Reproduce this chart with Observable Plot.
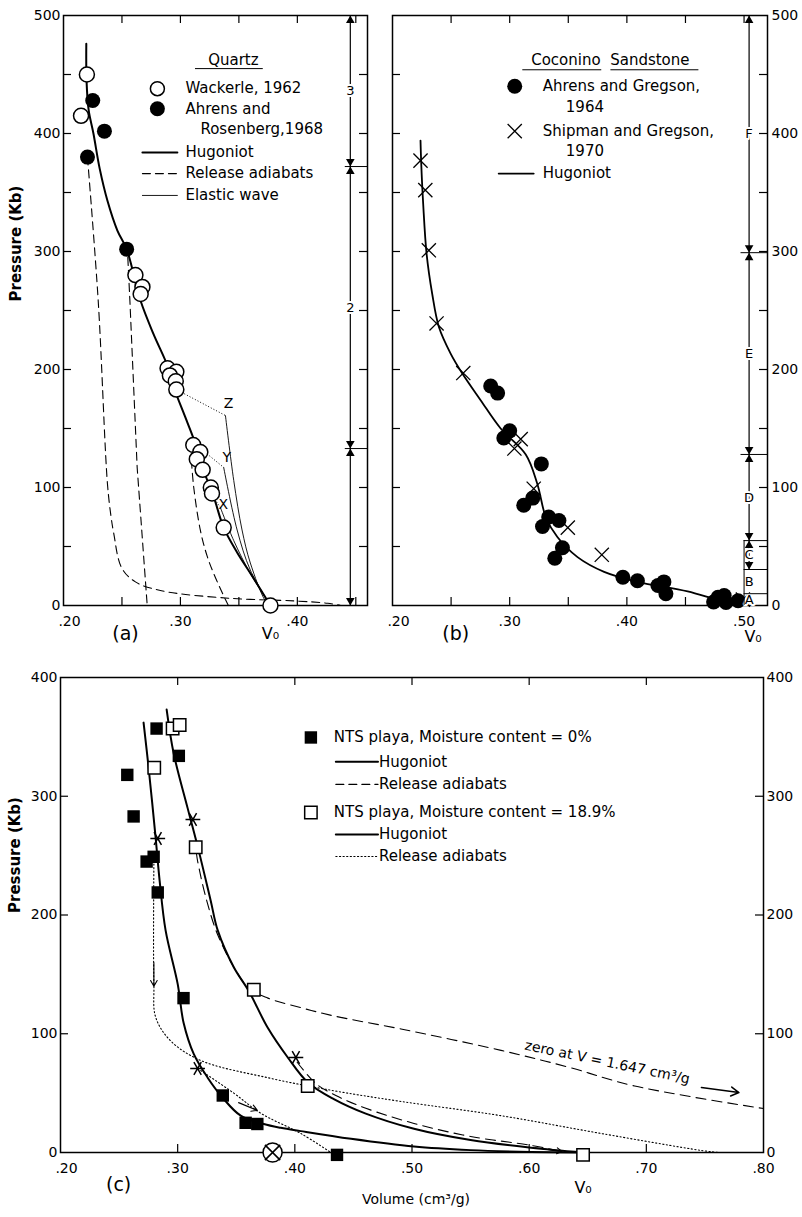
<!DOCTYPE html>
<html><head><meta charset="utf-8">
<script src="https://cdn.jsdelivr.net/npm/d3@7"></script>
<script src="https://cdn.jsdelivr.net/npm/@observablehq/plot@0.6"></script>
<style>
body{margin:0;background:#fff;}
#root{position:relative;width:802px;height:1217px;}
#root svg{position:absolute;left:0;}
</style></head><body><div id="root"></div>
<script>
// ---------------- DATA ----------------
// Panel (a) Quartz
const quartzXLabels=[0.2,0.3,0.4];
const quartzXTicks=[0.25,0.3,0.35,0.4,0.45];
const quartzYLabels=[0,100,200,300,400,500];
const quartzYTicks=[50,100,150,200,250,300,350,400,450];
const quartzWackerle=[[0.220,450],[0.215,415],[0.2615,280],[0.2675,270],[0.266,264],[0.289,201],[0.2965,198],[0.291,195],[0.296,190],[0.2965,183],[0.311,136],[0.317,130],[0.314,124],[0.319,115],[0.326,100],[0.327,95],[0.337,66],[0.377,0]];
const quartzAhrens=[[0.225,428],[0.235,402],[0.2205,380],[0.254,302]];
const quartzHugoniot=[[0.2195,476],[0.2197,445],[0.2215,420],[0.2256,400],[0.231,370],[0.2376,343],[0.246,318],[0.254,302],[0.266,258],[0.277,230],[0.289,203],[0.2943,185],[0.304,160],[0.3114,141],[0.320,114],[0.3285,92],[0.337,66],[0.3485,45],[0.362,24],[0.377,0]];
const quartzRelease1=[[0.2205,380],[0.2297,258],[0.2376,103],[0.2407,75],[0.243,61],[0.2497,32],[0.2615,20],[0.2838,12.5],[0.341,6.2],[0.397,3.9],[0.426,1.9],[0.437,0]];
const quartzRelease2=[[0.255,295],[0.2568,258],[0.263,117],[0.2716,0]];
const quartzRelease3=[[0.3094,123],[0.3114,100],[0.3170,64],[0.3228,42],[0.3285,27],[0.3385,5],[0.341,0]];
const elasticZ=[[0.3385,161],[0.3456,106],[0.3527,64],[0.3598,36],[0.3726,4],[0.377,0]];
const elasticY=[[0.3370,117],[0.3485,64],[0.3598,30],[0.377,0]];
const elasticX=[[0.3342,83],[0.3456,55],[0.3598,27],[0.377,0]];
const elasticJoins=[{v1:0.2965,p1:183,v2:0.3385,p2:161,name:"Z",lp:171},{v1:0.3228,p1:128.5,v2:0.3370,p2:117,name:"Y",lp:125.6},{v1:0.328,p1:92,v2:0.3342,p2:83,name:"X",lp:86}];
const quartzZones=[{top:500,bottom:372,label:"3"},{top:372,bottom:133,label:"2"},{top:133,bottom:0,label:""}];
const quartzLegend=["Quartz","Wackerle, 1962","Ahrens and","Rosenberg,1968","Hugoniot","Release adiabats","Elastic wave"];

// Panel (b) Coconino Sandstone
const sandXLabels=[0.2,0.3,0.4,0.5];
const sandXTicks=[0.25,0.3,0.35,0.4,0.45,0.5];
const sandYLabels=[0,100,200,300,400,500];
const sandYTicks=[50,100,150,200,250,300,350,400,450];
const sandAhrens=[[0.2838,186],[0.2897,180],[0.300,148],[0.295,142],[0.327,120],[0.3197,91],[0.312,85],[0.3333,75],[0.342,72],[0.328,67],[0.345,49],[0.3385,40],[0.3966,24],[0.409,21],[0.4316,20],[0.4265,17],[0.4333,10],[0.4778,7],[0.483,8.5],[0.4846,2.5],[0.4949,4],[0.474,3]];
const sandShipman=[[0.2239,377],[0.228,352],[0.231,301],[0.2376,239],[0.2604,197],[0.3094,141],[0.304,133],[0.3205,99],[0.3496,66],[0.3786,43],[0.499,5]];
const sandHugoniot=[[0.2239,394],[0.2245,375],[0.2262,340],[0.2291,298],[0.2339,264],[0.2396,236],[0.2496,213.5],[0.2596,196.6],[0.2752,174],[0.2923,150],[0.3137,128],[0.3236,103],[0.3308,75],[0.3407,58],[0.3579,41],[0.3806,28.5],[0.4091,20],[0.4519,12],[0.4803,4],[0.4974,2]];
const sandZones=[{top:500,bottom:299,label:"F",arrow:true},{top:299,bottom:128,label:"E",arrow:true},{top:128,bottom:55,label:"D",arrow:true},{top:55,bottom:30.5,label:"C",arrow:true},{top:30.5,bottom:10,label:"B",arrow:false},{top:10,bottom:0,label:"A",arrow:false}];
const sandLegend=["Coconino","Sandstone","Ahrens and Gregson,","1964","Shipman and Gregson,","1970","Hugoniot"];

// Panel (c) NTS playa
const playaXLabels=[0.2,0.3,0.4,0.5,0.6,0.7,0.8];
const playaXTicks=[0.3,0.4,0.5,0.6,0.7];
const playaYLabels=[0,100,200,300,400];
const playaYTicks=[100,200,300];
const playaDry=[[0.282,357],[0.301,334],[0.257,318],[0.2624,283],[0.2735,245],[0.2795,249],[0.283,219],[0.305,130],[0.3385,48],[0.358,25],[0.368,24],[0.436,-2]];
const playaWet=[[0.2957,357],[0.3017,360],[0.280,324],[0.3154,257],[0.365,137],[0.411,56],[0.646,-2]];
const playaStars=[[0.283,264.5],[0.313,280.5],[0.4009,80],[0.317,70.7]];
const playaCircled=[[0.381,0]];
const hugDry=[[0.2709,362],[0.2752,324],[0.2812,265],[0.2846,229],[0.2897,187],[0.300,142],[0.3051,109],[0.3137,83],[0.3256,63],[0.3385,46],[0.3538,31],[0.3735,24],[0.388,20.8],[0.4051,18],[0.448,11.5],[0.5017,5],[0.55,2],[0.6017,0.5],[0.646,0]];
const hugWet=[[0.2906,373],[0.2966,336],[0.3085,290],[0.318,254],[0.3282,212],[0.3342,187],[0.3479,156],[0.3607,136],[0.3769,105],[0.394,80],[0.4111,59],[0.4333,45],[0.46,33],[0.5017,20],[0.55,10.5],[0.6017,4],[0.646,0]];
const releaseDashed1=[[0.316,252],[0.3171,245],[0.324,215],[0.3339,184],[0.348,156],[0.361,138],[0.377,130],[0.405,122],[0.4333,115],[0.4906,104],[0.576,86],[0.633,72],[0.69,56],[0.80,37]];
const releaseDashed2=[[0.402,76],[0.418,58],[0.435,48],[0.46,37.5],[0.5017,24.5],[0.55,13.5],[0.6017,6],[0.625,1.5]];
const releaseDotted1=[[0.2797,243],[0.2797,142],[0.2812,114],[0.294,94],[0.3197,77.5],[0.3769,63],[0.4333,52],[0.4906,43],[0.576,31],[0.6615,16],[0.747,1.7],[0.7615,0]];
const releaseDotted2=[[0.3197,69],[0.3479,50],[0.371,33],[0.4051,16],[0.4308,0]];
const playaLegend=["NTS playa, Moisture content = 0%","Hugoniot","Release adiabats","NTS playa, Moisture content = 18.9%","Hugoniot","Release adiabats"];
const zeroNote="zero at V = 1.647 cm\u00b3/g";

// ---------------- HELPERS ----------------
const root=document.getElementById("root");
const baseStyle={fontFamily:"DejaVu Sans, sans-serif",fontSize:"14px",background:"transparent",overflow:"visible",color:"#000"};
const fmt=d=>d3.format(".2f")(d).replace(/^0/,"");
const P=a=>a.map(([v,p])=>({v,p}));
const ln=(arr,o={})=>Plot.line(P(arr),{x:"v",y:"p",curve:"catmull-rom",stroke:"black",strokeWidth:1.1,...o});
const DASH="8,5", DOT="1.2,2.4";
function innerTicks(xt,yt,xd,yd,kx,ky,L=8){
  return [
    Plot.ruleX(xt,{x:d=>d,y1:()=>yd[0],y2:()=>yd[0]+L*ky,strokeWidth:1.2}),
    Plot.ruleX(xt,{x:d=>d,y1:()=>yd[1],y2:()=>yd[1]-L*ky,strokeWidth:1.2}),
    Plot.ruleY(yt,{y:d=>d,x1:()=>xd[0],x2:()=>xd[0]+L*kx,strokeWidth:1.2}),
    Plot.ruleY(yt,{y:d=>d,x1:()=>xd[1],x2:()=>xd[1]-L*kx,strokeWidth:1.2})
  ];
}
// x tick labels drawn as text marks (first label nudged right, as in the original)
function xLabels(labels){
  const o={x:d=>d,y:()=>0,text:fmt,dy:16,fontSize:14,fill:"black"};
  return [Plot.text(labels.slice(0,1),{...o,dx:6}),Plot.text(labels.slice(1),o)];
}
function zoneMarks(zones,xz){
  const arr=zones.filter(d=>d.arrow!==false);
  return [
    Plot.ruleX(arr,{x:()=>xz,y1:"top",y2:"bottom",strokeWidth:1.2}),
    Plot.dot(arr,{x:()=>xz,y:"top",symbol:"triangle",r:3.2,fill:"black",dy:5}),
    Plot.dot(arr,{x:()=>xz,y:"bottom",symbol:"triangle",rotate:180,r:3.2,fill:"black",dy:-5}),
    Plot.text(zones.filter(d=>d.label),{x:()=>xz,y:d=>(d.top+d.bottom)/2,text:"label",fontSize:13,fill:"black",stroke:"white",strokeWidth:4,paintOrder:"stroke"})
  ];
}
const T=(t,v,p,o={})=>Plot.text([{t,v,p}],{x:"v",y:"p",text:"t",fontSize:15,textAnchor:"start",fill:"black",...o});
const seg=(v1,v2,p,o={})=>Plot.line([{v:v1,p},{v:v2,p}],{x:"v",y:"p",stroke:"black",...o});

// ---------------- PANEL (a) ----------------
const kxA=0.26/304, kyA=500/590;
const plotA=Plot.plot({
  width:802,height:640,marginLeft:63,marginRight:435,marginTop:15,marginBottom:35,
  style:baseStyle,
  x:{domain:[0.2,0.46],axis:null},
  y:{domain:[0,500],ticks:quartzYLabels,tickSize:0,tickPadding:3,label:null},
  marks:[
    ...innerTicks(quartzXTicks,quartzYTicks,[0.2,0.46],[0,500],kxA,kyA),
    Plot.frame({stroke:"black",strokeWidth:1.5}),
    ...xLabels(quartzXLabels),
    ln(quartzRelease1,{strokeDasharray:DASH}),
    ln(quartzRelease2,{strokeDasharray:DASH,curve:"linear"}),
    ln(quartzRelease3,{strokeDasharray:DASH}),
    ln(elasticZ,{strokeWidth:0.9}),
    ln(elasticY,{strokeWidth:0.9}),
    ln(elasticX,{strokeWidth:0.9}),
    Plot.link(elasticJoins,{x1:"v1",y1:"p1",x2:"v2",y2:"p2",stroke:"black",strokeWidth:1,strokeDasharray:"1,2"}),
    ln(quartzHugoniot,{strokeWidth:2}),
    Plot.dot(P(quartzAhrens),{x:"v",y:"p",r:7.5,fill:"black"}),
    Plot.dot(P(quartzWackerle),{x:"v",y:"p",r:7.5,fill:"white",stroke:"black",strokeWidth:1.5}),
    Plot.text(elasticJoins,{x:"v2",y:"lp",text:"name",fontSize:14,fill:"black",dx:3}),
    ...zoneMarks(quartzZones,0.4453),
    Plot.ruleY([372,133],{y:d=>d,x1:()=>0.441,x2:()=>0.46,strokeWidth:1}),
    // legend
    T(quartzLegend[0],0.3453,462,{textAnchor:"middle"}),
    seg(0.3128,0.3701,455,{strokeWidth:1}),
    Plot.dot([{v:0.2803,p:438}],{x:"v",y:"p",r:7,fill:"white",stroke:"black",strokeWidth:1.5}),
    Plot.dot([{v:0.2803,p:421}],{x:"v",y:"p",r:7.5,fill:"black"}),
    T(quartzLegend[1],0.3043,438),
    T(quartzLegend[2],0.3043,421),
    T(quartzLegend[3],0.3171,404),
    seg(0.2675,0.2974,384,{strokeWidth:2}),
    T(quartzLegend[4],0.3043,384),
    seg(0.2675,0.2974,366,{strokeWidth:1.1,strokeDasharray:DASH}),
    T(quartzLegend[5],0.3043,366),
    seg(0.2675,0.2974,347.5,{strokeWidth:0.9}),
    T(quartzLegend[6],0.3043,347.5),
    T("(a)",0.253,-24,{textAnchor:"middle",fontSize:19}),
    T("V\u2080",0.377,-24,{textAnchor:"middle",fontSize:16}),
    Plot.text(["Pressure (Kb)"],{text:d=>d,frameAnchor:"left",rotate:-90,dx:-47,dy:-9,fontSize:15,fontWeight:"bold",fill:"black"})
  ]
});
plotA.style.top="0px";
root.appendChild(plotA);

// ---------------- PANEL (b) ----------------
const kxB=0.32/375, kyB=500/590;
const plotB=Plot.plot({
  width:802,height:640,marginLeft:392,marginRight:35,marginTop:15,marginBottom:35,
  style:baseStyle,
  x:{domain:[0.2,0.52],axis:null},
  y:{domain:[0,500],axis:"right",ticks:sandYLabels,tickSize:0,tickPadding:4,label:null},
  marks:[
    ...innerTicks(sandXTicks,sandYTicks,[0.2,0.52],[0,500],kxB,kyB),
    Plot.frame({stroke:"black",strokeWidth:1.5}),
    ...xLabels(sandXLabels),
    ln(sandHugoniot,{strokeWidth:1.8}),
    Plot.dot(P(sandAhrens),{x:"v",y:"p",r:7.5,fill:"black"}),
    Plot.dot(P(sandShipman),{x:"v",y:"p",symbol:"times",r:6.5,stroke:"black",strokeWidth:1.3}),
    ...zoneMarks(sandZones,0.5043),
    Plot.ruleY([299,128],{y:d=>d,x1:()=>0.4974,x2:()=>0.52,strokeWidth:1}),
    Plot.ruleY([55,30.5,10],{y:d=>d,x1:()=>0.500,x2:()=>0.52,strokeWidth:1}),
    Plot.ruleX([0.500],{x:d=>d,y1:()=>55,y2:()=>0,strokeWidth:1}),
    // legend
    T(sandLegend[0]+"  "+sandLegend[1],0.3859,462,{textAnchor:"middle"}),
    seg(0.3111,0.3778,454,{strokeWidth:1}),
    seg(0.3863,0.4607,454,{strokeWidth:1}),
    Plot.dot([{v:0.3043,p:440}],{x:"v",y:"p",r:7.5,fill:"black"}),
    T(sandLegend[2],0.3282,440),
    T(sandLegend[3],0.3479,422),
    Plot.dot([{v:0.3043,p:402}],{x:"v",y:"p",symbol:"times",r:6.5,stroke:"black",strokeWidth:1.3}),
    T(sandLegend[4],0.3282,402),
    T(sandLegend[5],0.3479,385),
    seg(0.2906,0.3205,366,{strokeWidth:1.8}),
    T(sandLegend[6],0.3282,366),
    T("(b)",0.254,-24,{textAnchor:"middle",fontSize:19}),
    T("V\u2080",0.5077,-27,{textAnchor:"middle",fontSize:16})
  ]
});
plotB.style.top="0px";
root.appendChild(plotB);

// ---------------- PANEL (c) ----------------
const kxC=0.6/703, kyC=400/475;
const plotC=Plot.plot({
  width:802,height:577,marginLeft:60,marginRight:39,marginTop:37,marginBottom:65,
  style:baseStyle,
  x:{domain:[0.2,0.8],axis:null},
  y:{domain:[0,400],axis:"both",ticks:playaYLabels,tickSize:0,tickPadding:3,label:null},
  marks:[
    ...innerTicks(playaXTicks,playaYTicks,[0.2,0.8],[0,400],kxC,kyC),
    Plot.frame({stroke:"black",strokeWidth:1.5}),
    ...xLabels(playaXLabels),
    ln(releaseDashed1,{strokeDasharray:"10,6"}),
    ln(releaseDashed2,{strokeDasharray:"10,6"}),
    ln(releaseDotted1,{strokeDasharray:DOT}),
    ln(releaseDotted2,{strokeDasharray:DOT}),
    Plot.arrow([{x1:0.2797,y1:160,x2:0.2797,y2:140}],{x1:"x1",y1:"y1",x2:"x2",y2:"y2",headLength:9,stroke:"black",strokeWidth:1.1}),
    Plot.arrow([{x1:0.352,y1:42,x2:0.368,y2:35.5}],{x1:"x1",y1:"y1",x2:"x2",y2:"y2",headLength:9,stroke:"black",strokeWidth:1.1}),
    Plot.arrow([{x1:0.605,y1:4,x2:0.628,y2:0.8}],{x1:"x1",y1:"y1",x2:"x2",y2:"y2",headLength:8,stroke:"black",strokeWidth:1.1}),
    ln(hugDry,{strokeWidth:2}),
    ln(hugWet,{strokeWidth:2}),
    Plot.dot(P(playaDry),{x:"v",y:"p",symbol:"square",r:7,fill:"black"}),
    Plot.dot(P(playaWet),{x:"v",y:"p",symbol:"square",r:7,fill:"white",stroke:"black",strokeWidth:1.5}),
    Plot.dot(P(playaStars),{x:"v",y:"p",symbol:"asterisk",rotate:90,r:7,stroke:"black",strokeWidth:1.5}),
    Plot.dot(P(playaCircled),{x:"v",y:"p",r:9.5,fill:"white",stroke:"black",strokeWidth:1.5}),
    Plot.dot(P(playaCircled),{x:"v",y:"p",symbol:"times",r:7,stroke:"black",strokeWidth:1.5}),
    Plot.text([zeroNote],{text:d=>d,x:()=>0.6667,y:()=>76,rotate:11.7,fontSize:14,fill:"black"}),
    Plot.arrow([{x1:0.747,y1:54.7,x2:0.779,y2:50.5}],{x1:"x1",y1:"y1",x2:"x2",y2:"y2",headLength:9,stroke:"black",strokeWidth:1.5}),
    // legend
    Plot.dot([{v:0.4137,p:349.5}],{x:"v",y:"p",symbol:"square",r:7,fill:"black"}),
    T(playaLegend[0],0.4333,349.5),
    seg(0.435,0.471,329,{strokeWidth:2}),
    T(playaLegend[1],0.4718,329),
    seg(0.435,0.471,310,{strokeWidth:1.1,strokeDasharray:DASH}),
    T(playaLegend[2],0.4718,310),
    Plot.dot([{v:0.4137,p:286.3}],{x:"v",y:"p",symbol:"square",r:7,fill:"white",stroke:"black",strokeWidth:1.5}),
    T(playaLegend[3],0.4333,286.3),
    seg(0.435,0.471,267.8,{strokeWidth:2}),
    T(playaLegend[4],0.4718,267.8),
    seg(0.435,0.471,249.3,{strokeWidth:1.1,strokeDasharray:DOT}),
    T(playaLegend[5],0.4718,249.3),
    T("(c)",0.2496,-27,{textAnchor:"middle",fontSize:19}),
    T("V\u2080",0.646,-30,{textAnchor:"middle",fontSize:16}),
    Plot.text(["Pressure (Kb)"],{text:d=>d,frameAnchor:"left",rotate:-90,dx:-45,dy:-2,fontSize:15,fontWeight:"bold",fill:"black"}),
    Plot.text(["Volume (cm\u00b3/g)"],{text:d=>d,frameAnchor:"bottom",dy:51,dx:4,fontSize:14,fill:"black"})
  ]
});
plotC.style.top="640px";
root.appendChild(plotC);
</script></body></html>
